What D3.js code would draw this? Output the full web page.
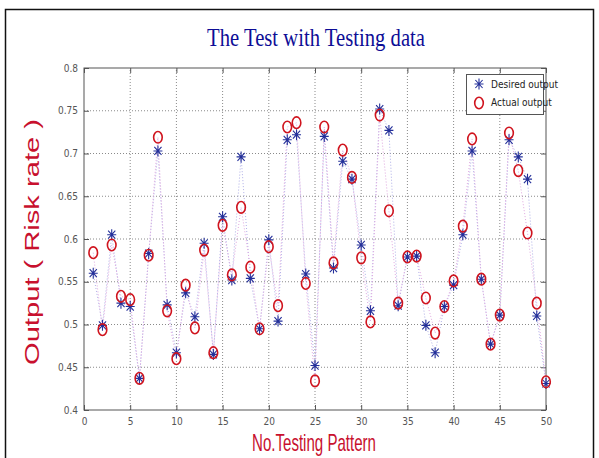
<!DOCTYPE html>
<html>
<head>
<meta charset="utf-8">
<script src="https://cdn.jsdelivr.net/npm/d3@7"></script>
<style>
body{margin:0;background:#fff;}
svg{display:block;}
</style>
</head>
<body>
<svg></svg>
<script>
// values
var patterns=d3.range(1,51);
var desired=[0.560,0.499,0.605,0.525,0.521,0.437,0.583,0.703,0.523,0.467,
             0.537,0.509,0.595,0.465,0.626,0.552,0.696,0.554,0.495,0.599,
             0.504,0.716,0.722,0.559,0.452,0.720,0.566,0.691,0.670,0.593,
             0.516,0.752,0.727,0.522,0.579,0.580,0.499,0.467,0.521,0.546,
             0.605,0.703,0.553,0.477,0.511,0.716,0.696,0.670,0.510,0.431];
var actual=[0.584,0.494,0.593,0.533,0.529,0.437,0.581,0.719,0.516,0.460,
            0.546,0.496,0.587,0.467,0.616,0.558,0.637,0.567,0.495,0.591,
            0.522,0.731,0.736,0.548,0.434,0.731,0.572,0.704,0.672,0.578,
            0.503,0.745,0.633,0.525,0.579,0.580,0.531,0.490,0.521,0.551,
            0.615,0.717,0.553,0.477,0.511,0.724,0.680,0.607,0.525,0.433];
var xTicks=[0,5,10,15,20,25,30,35,40,45,50];
var yTicks=[0.4,0.45,0.5,0.55,0.6,0.65,0.7,0.75,0.8];
var legendLabels=["Desired output","Actual output"];

var W=599,H=458;
var svg=d3.select("svg").attr("width",W).attr("height",H);

// outer frame
svg.append("rect")
   .attr("x",5.5).attr("y",9.5)
   .attr("width",588).attr("height",460)
   .attr("fill","none").attr("stroke","#111").attr("stroke-width",1.5);

var margins={top:68,bottom:48,left:84,right:53};
var xScale=d3.scaleLinear().domain([0,50]).range([margins.left,W-margins.right]);
var yScale=d3.scaleLinear().domain([0.4,0.8]).range([H-margins.bottom,margins.top]);

var x0=xScale(0),x1=xScale(50),y0=yScale(0.4),y1=yScale(0.8);

// grid
var grid=svg.append("g");
grid.selectAll(".gx").data(xTicks.slice(1,-1)).enter().append("line")
    .attr("x1",function(d){return xScale(d);}).attr("x2",function(d){return xScale(d);})
    .attr("y1",y0).attr("y2",y1)
    .attr("stroke","#8a8a8a").attr("stroke-width",1).attr("stroke-dasharray","1,2");
grid.selectAll(".gy").data(yTicks.slice(1,-1)).enter().append("line")
    .attr("y1",function(d){return yScale(d);}).attr("y2",function(d){return yScale(d);})
    .attr("x1",x0).attr("x2",x1)
    .attr("stroke","#8a8a8a").attr("stroke-width",1).attr("stroke-dasharray","1,2");

// axes (matlab box with inward ticks)
var tickFont="'Liberation Sans Narrow','DejaVu Sans Condensed',sans-serif";
var bottomAxis=d3.axisBottom(xScale).tickValues(xTicks).tickSize(-5).tickPadding(8).tickFormat(d3.format("d"));
var topAxis=d3.axisTop(xScale).tickValues(xTicks).tickSize(-5).tickFormat("");
var leftAxis=d3.axisLeft(yScale).tickValues(yTicks).tickSize(-5).tickPadding(6).tickFormat(function(d){return d3.format("")(+d.toFixed(2));});
var rightAxis=d3.axisRight(yScale).tickValues(yTicks).tickSize(-5).tickFormat("");

function styleAxis(g){
  g.select(".domain").attr("stroke","#555");
  g.selectAll(".tick line").attr("stroke","#555");
  g.selectAll("text").attr("fill","#555").style("font-family",tickFont).style("font-size","10px");
}
svg.append("g").attr("transform","translate(0,"+y0+")").call(bottomAxis).call(styleAxis);
svg.append("g").attr("transform","translate(0,"+y1+")").call(topAxis).call(styleAxis);
svg.append("g").attr("transform","translate("+x0+",0)").call(leftAxis).call(styleAxis);
svg.append("g").attr("transform","translate("+x1+",0)").call(rightAxis).call(styleAxis);
svg.selectAll(".domain").attr("d",null);
svg.append("rect").attr("x",x0).attr("y",y1).attr("width",x1-x0).attr("height",y0-y1)
   .attr("fill","none").attr("stroke","#555").attr("stroke-width",1);

// dotted connecting lines
var lineMaker=function(vals){
  return d3.line().x(function(d,i){return xScale(patterns[i]);}).y(function(d){return yScale(d);})(vals);
};
svg.append("path").attr("d",lineMaker(desired))
   .attr("fill","none").attr("stroke","#b0b0e8").attr("stroke-width",1).attr("stroke-dasharray","1,2");
svg.append("path").attr("d",lineMaker(actual))
   .attr("fill","none").attr("stroke","#e0a8e0").attr("stroke-width",1).attr("stroke-dasharray","1,2");

// markers
var starPath="M0,-5.5L0,5.5M-4.5,0L4.5,0M-3.6,-4L3.6,4M-3.6,4L3.6,-4";
svg.append("g").selectAll("path").data(desired).enter().append("path")
   .attr("transform",function(d,i){return "translate("+xScale(patterns[i])+","+yScale(d)+")";})
   .attr("d",starPath).attr("stroke","#24309a").attr("stroke-width",1.1).attr("fill","none");
svg.append("g").selectAll("ellipse").data(actual).enter().append("ellipse")
   .attr("cx",function(d,i){return xScale(patterns[i]);})
   .attr("cy",function(d){return yScale(d);})
   .attr("rx",4.3).attr("ry",5.8)
   .attr("fill","none").attr("stroke","#d0141e").attr("stroke-width",1.6);

// legend
var leg=svg.append("g");
leg.append("rect").attr("x",466.5).attr("y",74.5).attr("width",77).attr("height",40)
   .attr("fill","#fff").attr("stroke","#555").attr("stroke-width",1);
leg.append("path").attr("transform","translate(479,84)").attr("d",starPath)
   .attr("stroke","#24309a").attr("stroke-width",1.1).attr("fill","none");
leg.append("ellipse").attr("cx",479).attr("cy",103).attr("rx",4.3).attr("ry",5.8)
   .attr("fill","none").attr("stroke","#d0141e").attr("stroke-width",1.6);
leg.selectAll("text").data(legendLabels).enter().append("text")
   .attr("x",491).attr("y",function(d,i){return 88+i*18;})
   .attr("fill","#222").style("font-family",tickFont).style("font-size","10px")
   .text(function(d){return d;});

// title and axis labels
svg.append("text").attr("x",316).attr("y",46).attr("text-anchor","middle")
   .attr("fill","#0d0d96").style("font-family","'Liberation Serif','DejaVu Serif',serif")
   .style("font-size","26px").attr("textLength",218).attr("lengthAdjust","spacingAndGlyphs")
   .text("The Test with Testing data");
svg.append("text").attr("transform","translate(39,242) rotate(-90)").attr("text-anchor","middle")
   .attr("fill","#c8102e").style("font-family","'Liberation Sans',Arial,sans-serif")
   .style("font-size","21px").attr("textLength",246).attr("lengthAdjust","spacingAndGlyphs")
   .text("Output ( Risk rate )");
svg.append("text").attr("x",314).attr("y",451).attr("text-anchor","middle")
   .attr("fill","#c8102e").style("font-family","'Liberation Sans Narrow','Liberation Sans',sans-serif")
   .style("font-size","24px").attr("textLength",124).attr("lengthAdjust","spacingAndGlyphs")
   .text("No.Testing Pattern");
</script>
</body>
</html>
